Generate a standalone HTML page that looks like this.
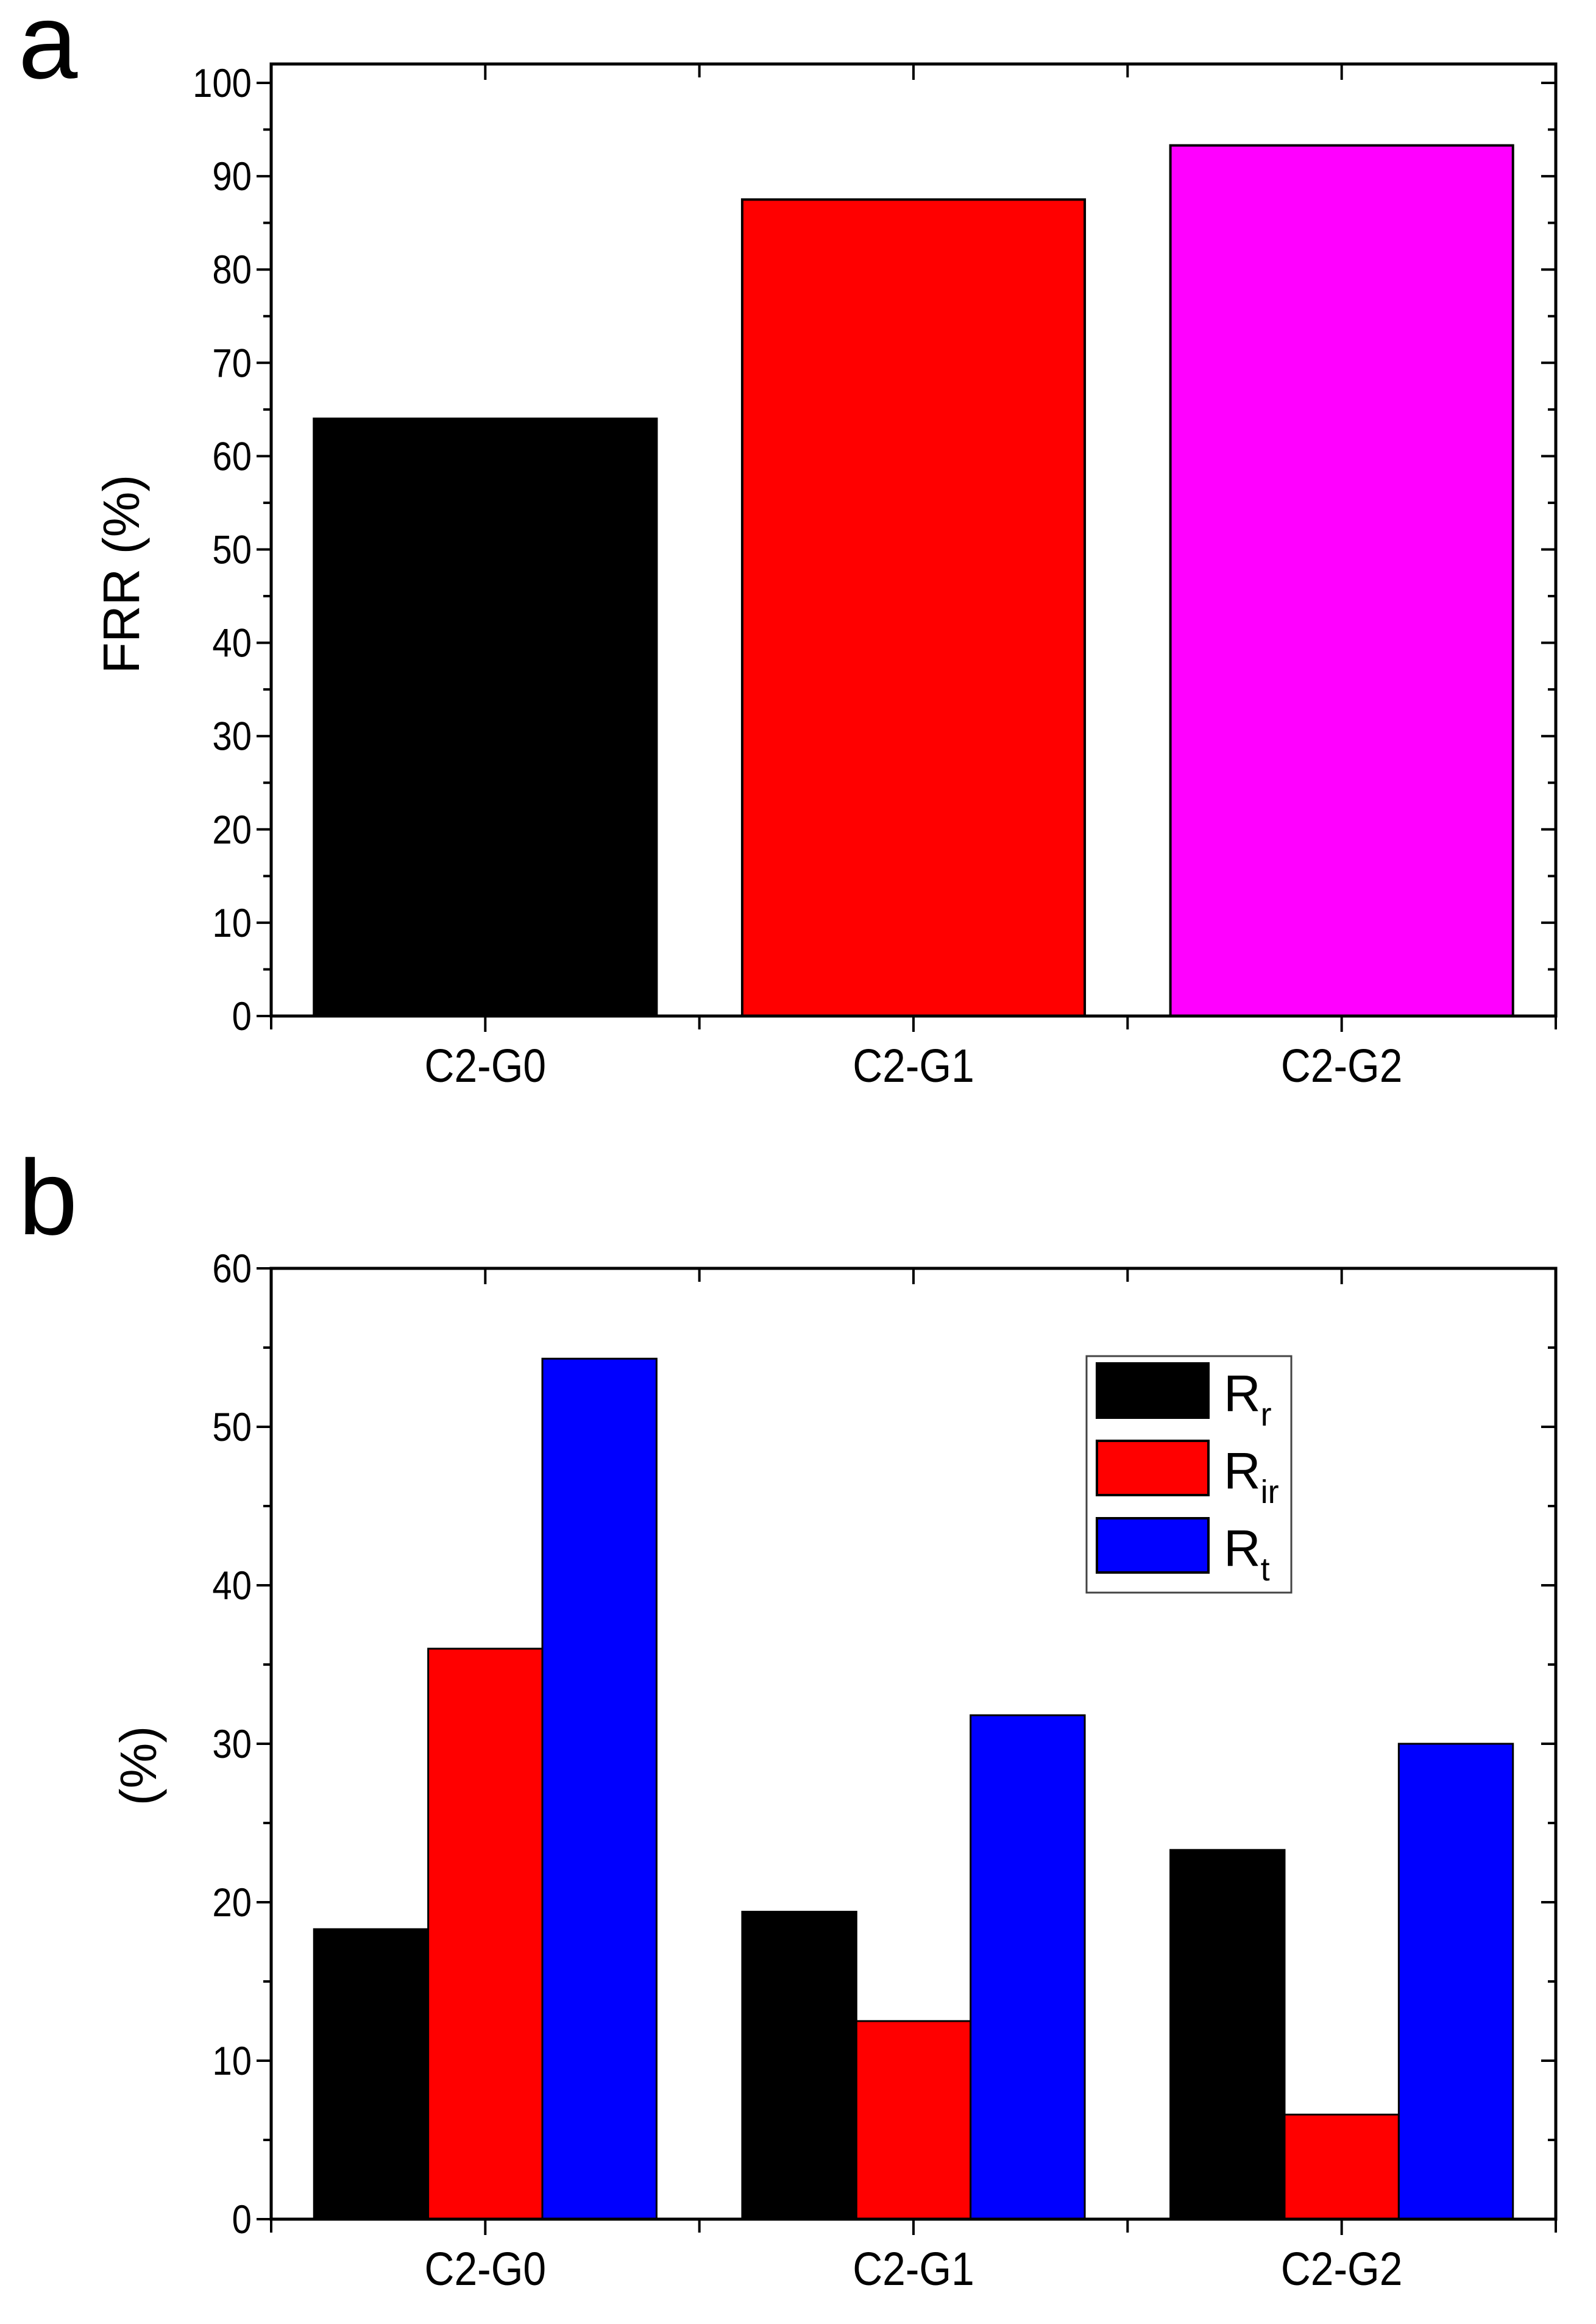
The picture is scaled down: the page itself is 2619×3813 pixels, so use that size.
<!DOCTYPE html>
<html><head><meta charset="utf-8"><style>
html,body{margin:0;padding:0;background:#fff}
svg{display:block}
text{font-family:"Liberation Sans",sans-serif;fill:#000}
</style></head><body>
<svg id="fig" width="2619" height="3813" viewBox="0 0 2619 3813" xmlns="http://www.w3.org/2000/svg">
<text x="30" y="128" font-size="175">a</text>
<text x="30" y="2025" font-size="175">b</text>
<g id="pa"></g>
<g id="pb"></g>
</svg>
<script>
const categories = ["C2-G0","C2-G1","C2-G2"];
const frrValues = [64.0, 87.5, 93.3];
const frrColors = ["#000000","#ff0000","#ff00ff"];
const frrTicks = [0,10,20,30,40,50,60,70,80,90,100];
const seriesNames = ["R", "R", "R"];
const seriesSubs = ["r","ir","t"];
const seriesColors = ["#000000","#ff0000","#0000ff"];
const rrValues = [18.3, 19.4, 23.3];
const rirValues = [36.0, 12.5, 6.6];
const rtValues = [54.3, 31.8, 30.0];
const bTicks = [0,10,20,30,40,50,60];

const NS="http://www.w3.org/2000/svg";
function mk(parent,tag,attrs,text){const e=document.createElementNS(NS,tag);for(const k in attrs)e.setAttribute(k,attrs[k]);if(text!==undefined)e.textContent=text;parent.appendChild(e);return e;}

function axes(g,cfg){
  const {L,R,T,B,ymax,ticks,title,titleX,titleY}=cfg;
  const y=v=>B-(v/ymax)*(B-T);
  const cw=(R-L)/categories.length;
  const x=i=>L+cw*(i+0.5);
  ticks.forEach(t=>{
    let l=mk(g,'line',{x1:L-24,x2:L,y1:y(t),y2:y(t),stroke:'#000','stroke-width':4});
    
    
    let r=mk(g,'line',{x1:R,x2:R-24,y1:y(t),y2:y(t),stroke:'#000','stroke-width':4});
    
    
    let tx=mk(g,'text',{x:L-32,y:y(t)+23,'font-size':66,'text-anchor':'end',transform:`translate(${L-32},0) scale(0.88,1) translate(${-(L-32)},0)`},String(t));
    
    
  });
  for(let k=0;k<ticks.length-1;k++){
    const m=(ticks[k]+ticks[k+1])/2;
    let l=mk(g,'line',{x1:L-13,x2:L,y1:y(m),y2:y(m),stroke:'#000','stroke-width':4});
    
    
    let r=mk(g,'line',{x1:R,x2:R-13,y1:y(m),y2:y(m),stroke:'#000','stroke-width':4});
    
    
  }
  for(let i=0;i<=categories.length;i++){
    const xb=L+cw*i;
    let l=mk(g,'line',{x1:xb,x2:xb,y1:B,y2:B+22,stroke:'#000','stroke-width':4});
    
    
    let t=mk(g,'line',{x1:xb,x2:xb,y1:T,y2:T+22,stroke:'#000','stroke-width':4});
    
    
  }
  categories.forEach((c,i)=>{
    let l=mk(g,'line',{x1:x(i),x2:x(i),y1:B,y2:B+26,stroke:'#000','stroke-width':4});
    
    
    let t=mk(g,'line',{x1:x(i),x2:x(i),y1:T,y2:T+26,stroke:'#000','stroke-width':4});
    
    
    let tx=mk(g,'text',{x:x(i),y:B+108,'font-size':77,'text-anchor':'middle',transform:`translate(${x(i)},0) scale(0.88,1) translate(${-x(i)},0)`},c);
    
    
  });
  let tt=mk(g,'text',{x:titleX,y:titleY,'font-size':84,'text-anchor':'middle',transform:`rotate(-90 ${titleX} ${titleY})`},title);
  
  
  return {y,x,cw};
}
function frame(g,L,R,T,B){
  let f=mk(g,'rect',{x:L,y:T,width:R-L,height:B-T,fill:'none',stroke:'#000','stroke-width':5});
  
  
}

(function(){
  const g=document.getElementById('pa');
  const L=445,R=2553,T=105,B=1667;
  const yTop=136; const ymax=100*(B-T)/(B-yTop);
  const a=axes(g,{L,R,T,B,ymax,ticks:frrTicks,title:"FRR (%)",titleX:228,titleY:942});
  frrValues.forEach((v,i)=>{
    const w=a.cw*0.8;
    let r=mk(g,'rect',{x:a.x(i)-w/2,y:a.y(v),width:w,height:B-a.y(v),fill:frrColors[i],stroke:'#000','stroke-width':4});
    
    
  });
  frame(g,L,R,T,B);
})();

(function(){
  const g=document.getElementById('pb');
  const L=445,R=2553,T=2081,B=3641;
  const a=axes(g,{L,R,T,B,ymax:60,ticks:bTicks,title:"(%)",titleX:256,titleY:2897});
  const series=[rrValues,rirValues,rtValues];
  const bw=a.cw*0.8/3;
  series.forEach((vals,s)=>{
    vals.forEach((v,i)=>{
      const x0=a.x(i)-a.cw*0.4+bw*s;
      let r=mk(g,'rect',{x:x0,y:a.y(v),width:bw,height:B-a.y(v),fill:seriesColors[s],stroke:'#000','stroke-width':3});
      
      
    });
  });
  frame(g,L,R,T,B);
  const lg=mk(g,'g',{});
  
  
  let box=mk(lg,'rect',{x:1783,y:2225,width:336,height:388,fill:'#fff',stroke:'#444','stroke-width':3});
  
  
  const sy=[2237,2364,2491];
  seriesColors.forEach((c,s)=>{
    let sw=mk(lg,'rect',{x:1800,y:sy[s],width:183,height:89,fill:c,stroke:'#000','stroke-width':4});
    
    
    let t=mk(lg,'text',{x:2008,y:sy[s]+78,'font-size':84});
    
    
    const m=document.createElementNS(NS,'tspan');m.textContent=seriesNames[s];t.appendChild(m);
    const sub=document.createElementNS(NS,'tspan');sub.setAttribute('font-size','54');sub.setAttribute('dy','24');sub.textContent=seriesSubs[s];t.appendChild(sub);
  });
})();
</script>
</body></html>
